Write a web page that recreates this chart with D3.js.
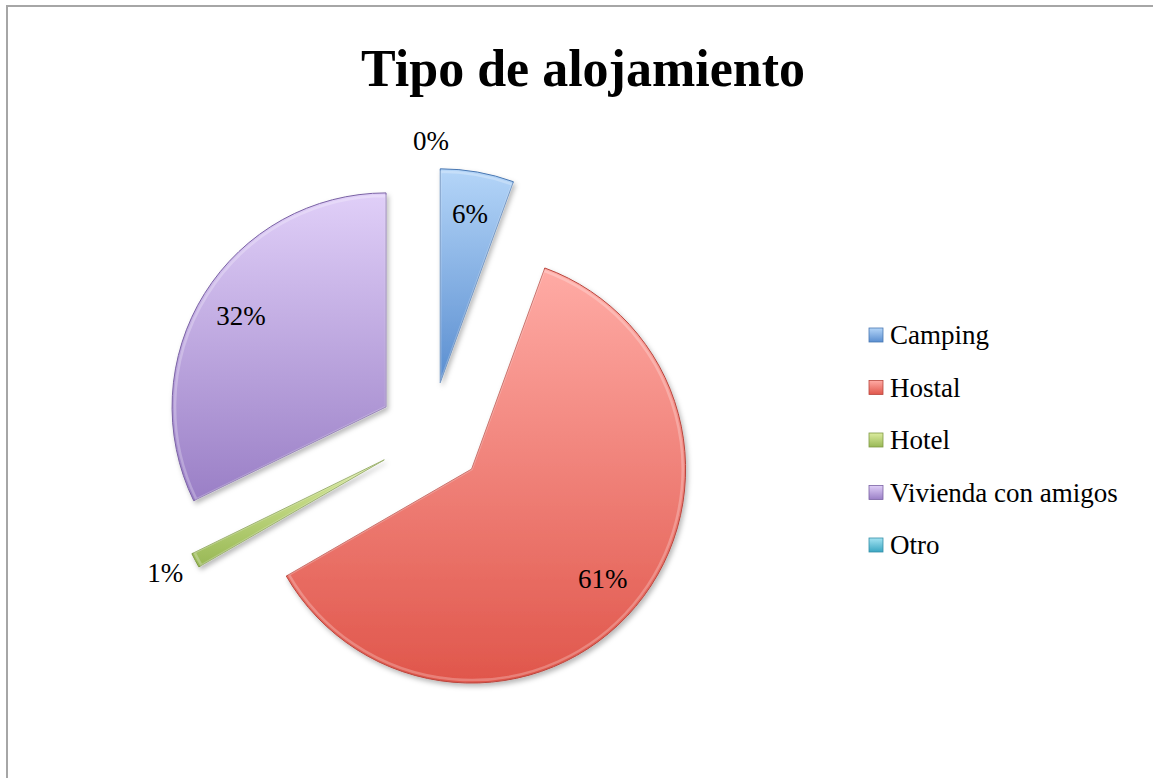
<!DOCTYPE html>
<html>
<head>
<meta charset="utf-8">
<script src="https://d3js.org/d3.v7.min.js"></script>
<style>
  body { margin: 0; background: #fff; }
  text { font-family: "Liberation Serif", "Times New Roman", serif; fill: #000; }
</style>
</head>
<body>
<script>
    var width = 1153;
    var height = 778;

    // datos (personas por tipo de alojamiento)
    var categories = ["Camping", "Hostal", "Hotel", "Vivienda con amigos", "Otro"];
    var counts = [5, 55, 1, 29, 0];
    var colorsTop = ["#b4d5f8", "#ffaba5", "#dcec9f", "#e0cff8", "#a3e3f2"];
    var colorsBottom = ["#5a8ed0", "#e0564b", "#98b855", "#9a7fc6", "#3aa6c2"];
    var strokes = ["#4a78b2", "#b9463e", "#7f9a45", "#7a62a4", "#3590a8"];

    var cx = 431, cy = 435, radius = 214, explode = 53;

    var svg = d3.select("body").append("svg")
        .attr("width", width)
        .attr("height", height);

    var defs = svg.append("defs");

    var shadow = defs.append("filter")
        .attr("id", "shadow")
        .attr("x", "-20%").attr("y", "-20%")
        .attr("width", "140%").attr("height", "140%");
    shadow.append("feDropShadow")
        .attr("dx", 2).attr("dy", 3)
        .attr("stdDeviation", 2.5)
        .attr("flood-color", "#000")
        .attr("flood-opacity", 0.28);

    categories.forEach(function(c, i) {
        var g = defs.append("linearGradient")
            .attr("id", "grad" + i)
            .attr("x1", 0).attr("y1", 0)
            .attr("x2", 0).attr("y2", 1);
        g.append("stop").attr("offset", "0%").attr("stop-color", colorsTop[i]);
        g.append("stop").attr("offset", "100%").attr("stop-color", colorsBottom[i]);
    });

    // marco
    svg.append("rect")
        .attr("x", 7)
        .attr("y", 6)
        .attr("width", width + 20)
        .attr("height", height + 20)
        .style("fill", "#fff")
        .style("stroke", "#a6a6a6")
        .style("stroke-width", 2);

    svg.append("text")
        .attr("x", 583)
        .attr("y", 86)
        .attr("text-anchor", "middle")
        .style("font-size", "52px")
        .style("font-weight", "bold")
        .text("Tipo de alojamiento");

    var total = d3.sum(counts);
    var data = categories.map(function(c, i) { return { name: c, value: counts[i], i: i }; });

    var pie = d3.pie()
        .sort(null)
        .value(function(d) { return d.value; });

    var arcs = pie(data);

    var arc = d3.arc()
        .innerRadius(0)
        .outerRadius(radius);

    function midAngle(d) { return (d.startAngle + d.endAngle) / 2; }

    function offset(d) {
        var a = midAngle(d);
        return [explode * Math.sin(a), -explode * Math.cos(a)];
    }

    // posicion de etiqueta: dentro si la porcion es grande, fuera si es pequena
    function labelPos(d) {
        var a = midAngle(d);
        if (d.endAngle - d.startAngle > 0.15) {
            var r = radius * 0.8;
            return [r * Math.sin(a), -r * Math.cos(a) + 9];
        }
        var ro = radius + 16;
        return [ro * Math.sin(a) + 18 * Math.sin(a),
                -ro * Math.cos(a) - 11 * Math.cos(a) + 9];
    }

    var pieG = svg.append("g")
        .attr("transform", "translate(" + cx + "," + cy + ")");

    var slices = pieG.selectAll("g.slice")
        .data(arcs)
        .enter()
        .append("g")
        .attr("class", "slice")
        .attr("transform", function(d) { var o = offset(d); return "translate(" + o[0] + "," + o[1] + ")"; });

    slices.filter(function(d) { return d.value > 0; })
        .append("path")
        .attr("d", arc)
        .attr("filter", "url(#shadow)")
        .style("fill", function(d) { return "url(#grad" + d.data.i + ")"; })
        .style("stroke", function(d) { return strokes[d.data.i]; })
        .style("stroke-width", 1);

    // brillo del bisel
    slices.filter(function(d) { return d.value > 0; })
        .append("path")
        .attr("d", d3.arc().innerRadius(0).outerRadius(radius - 3))
        .style("fill", "none")
        .style("stroke", "#fff")
        .style("stroke-opacity", 0.25)
        .style("stroke-width", 2.5);

    // etiquetas
    slices.append("text")
        .attr("text-anchor", "middle")
        .style("font-size", "27px")
        .attr("x", function(d) { return labelPos(d)[0]; })
        .attr("y", function(d) { return labelPos(d)[1]; })
        .text(function(d) { return Math.round(d.value / total * 100) + "%"; });

    // leyenda
    var ly = d3.scalePoint()
        .domain(categories)
        .range([335, 545]);

    var legend = svg.selectAll("g.legend")
        .data(data)
        .enter()
        .append("g")
        .attr("class", "legend")
        .attr("transform", function(d) { return "translate(869," + ly(d.name) + ")"; });

    legend.append("rect")
        .attr("x", 0)
        .attr("y", -7)
        .attr("width", 14)
        .attr("height", 14)
        .style("fill", function(d) { return "url(#grad" + d.i + ")"; })
        .style("stroke", function(d) { return strokes[d.i]; })
        .style("stroke-width", 0.8);

    legend.append("text")
        .attr("x", 21)
        .attr("y", 9)
        .style("font-size", "27px")
        .text(function(d) { return d.name; });
</script>
</body>
</html>
